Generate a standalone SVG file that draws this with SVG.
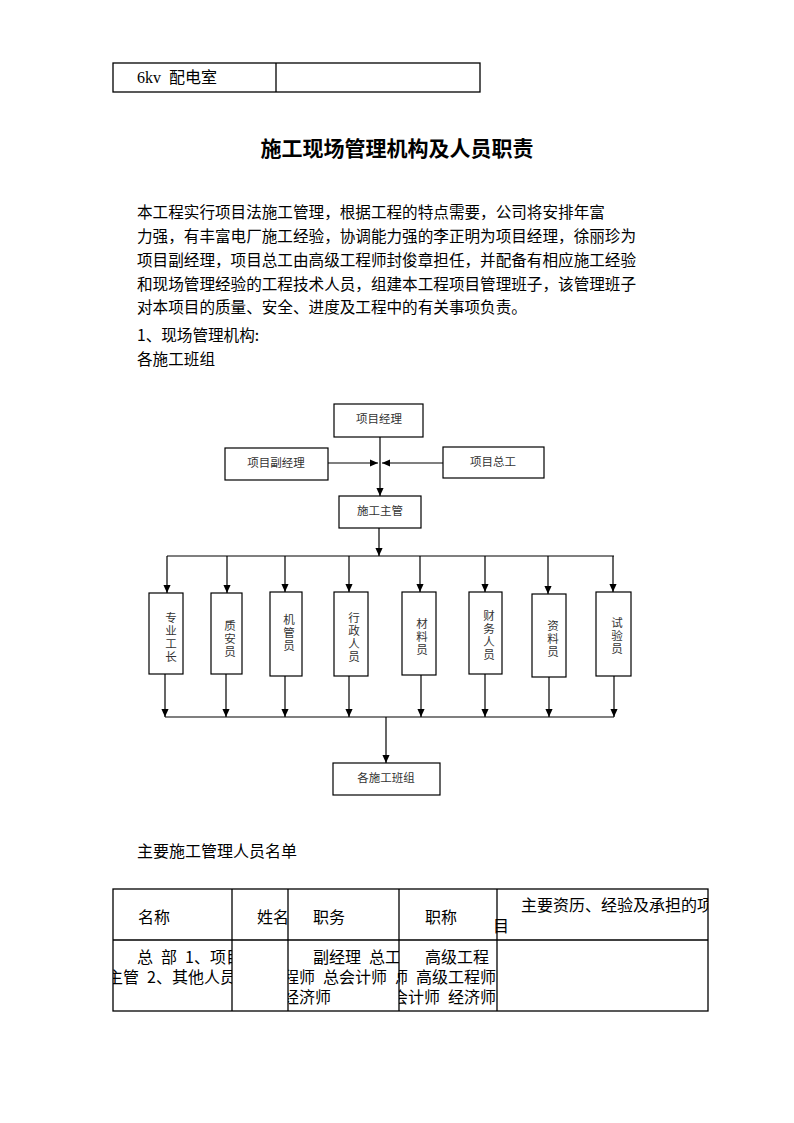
<svg xmlns="http://www.w3.org/2000/svg" width="794" height="1123" viewBox="0 0 794 1123">
<style>
.t{font-family:"Noto Sans CJK SC","Noto Sans",sans-serif;font-size:15.6px;fill:#000}
.ttl{font-family:"Noto Sans CJK SC",sans-serif;font-size:21px;font-weight:bold;fill:#000}
.c{font-family:"Noto Sans CJK SC",sans-serif;font-size:16px;fill:#000}
.n{font-family:"Noto Sans CJK SC",sans-serif;font-size:11.5px;fill:#333;text-anchor:middle}
.v{font-family:"Noto Sans CJK SC",sans-serif;font-size:11.5px;fill:#333;text-anchor:middle;writing-mode:vertical-rl;letter-spacing:1.5px}
.box{fill:#fff;stroke:#000;stroke-width:1.2}
.ln{stroke:#000;stroke-width:1.2;fill:none}
.tb{stroke:#000;stroke-width:1.3;fill:none}
</style>
<defs>
<marker id="ah" markerWidth="8" markerHeight="9" refX="9" refY="4" orient="auto" markerUnits="userSpaceOnUse" viewBox="0 0 9 8"><path d="M0,0 L9,4 L0,8 z" fill="#000"/></marker>
<clipPath id="c1"><rect x="113" y="940" width="119" height="71"/></clipPath>
<clipPath id="c3"><rect x="288" y="940" width="111" height="71"/></clipPath>
<clipPath id="c4"><rect x="399" y="940" width="98" height="71"/></clipPath>
<clipPath id="c5"><rect x="490" y="889" width="218" height="51"/></clipPath>
</defs>
<rect width="794" height="1123" fill="#fff"/>

<g id="top-table">
<rect x="113" y="63" width="367" height="29" class="tb"/>
<line x1="276" y1="63" x2="276" y2="92" class="tb"/>
<text x="137" y="83" class="c"><tspan font-family="Liberation Serif">6kv</tspan>&#8194;配电室</text>
</g>

<text x="397" y="156" class="ttl" text-anchor="middle">施工现场管理机构及人员职责</text>

<g id="paragraph">
<text x="137" y="218" class="t">本工程实行项目法施工管理，根据工程的特点需要，公司将安排年富</text>
<text x="137" y="242" class="t">力强，有丰富电厂施工经验，协调能力强的李正明为项目经理，徐丽珍为</text>
<text x="137" y="266" class="t">项目副经理，项目总工由高级工程师封俊章担任，并配备有相应施工经验</text>
<text x="137" y="290" class="t">和现场管理经验的工程技术人员，组建本工程项目管理班子，该管理班子</text>
<text x="137" y="313" class="t">对本项目的质量、安全、进度及工程中的有关事项负责。</text>
<text x="137" y="341" class="t">1、现场管理机构:</text>
<text x="137" y="365" class="t">各施工班组</text>
</g>

<g id="connectors">
<line x1="380" y1="437" x2="380" y2="496" class="ln" marker-end="url(#ah)"/>
<line x1="328" y1="463" x2="378" y2="463" class="ln" marker-end="url(#ah)"/>
<line x1="443" y1="463" x2="382" y2="463" class="ln" marker-end="url(#ah)"/>
<line x1="379" y1="528" x2="379" y2="556" class="ln" marker-end="url(#ah)"/>
<line x1="167" y1="556" x2="614" y2="556" class="ln"/>
<line x1="167" y1="556" x2="167" y2="593" class="ln" marker-end="url(#ah)"/>
<line x1="227" y1="556" x2="227" y2="593" class="ln" marker-end="url(#ah)"/>
<line x1="285" y1="556" x2="285" y2="592" class="ln" marker-end="url(#ah)"/>
<line x1="349" y1="556" x2="349" y2="592" class="ln" marker-end="url(#ah)"/>
<line x1="420" y1="556" x2="420" y2="592" class="ln" marker-end="url(#ah)"/>
<line x1="485" y1="556" x2="485" y2="592" class="ln" marker-end="url(#ah)"/>
<line x1="548" y1="556" x2="548" y2="594" class="ln" marker-end="url(#ah)"/>
<line x1="613" y1="556" x2="613" y2="592" class="ln" marker-end="url(#ah)"/>
<line x1="165" y1="674" x2="165" y2="717" class="ln" marker-end="url(#ah)"/>
<line x1="226" y1="674" x2="226" y2="717" class="ln" marker-end="url(#ah)"/>
<line x1="285" y1="676" x2="285" y2="717" class="ln" marker-end="url(#ah)"/>
<line x1="349" y1="676" x2="349" y2="717" class="ln" marker-end="url(#ah)"/>
<line x1="421" y1="675" x2="421" y2="717" class="ln" marker-end="url(#ah)"/>
<line x1="485" y1="674" x2="485" y2="717" class="ln" marker-end="url(#ah)"/>
<line x1="549" y1="677" x2="549" y2="717" class="ln" marker-end="url(#ah)"/>
<line x1="614" y1="676" x2="614" y2="717" class="ln" marker-end="url(#ah)"/>
<line x1="165" y1="717" x2="614" y2="717" class="ln"/>
<line x1="386" y1="717" x2="386" y2="763" class="ln" marker-end="url(#ah)"/>
</g>

<g id="n-pm"><rect x="334" y="404" width="89" height="33" class="box"/><text x="379" y="423" class="n">项目经理</text></g>
<g id="n-dpm"><rect x="225" y="448" width="103" height="32" class="box"/><text x="276" y="467" class="n">项目副经理</text></g>
<g id="n-ce"><rect x="443" y="447" width="101" height="31" class="box"/><text x="493" y="466" class="n">项目总工</text></g>
<g id="n-sup"><rect x="339" y="496" width="82" height="32" class="box"/><text x="380" y="515" class="n">施工主管</text></g>

<g id="n-1"><rect x="149" y="593" width="34" height="81" class="box"/><text x="171" y="638" class="v">专业工长</text></g>
<g id="n-2"><rect x="211" y="593" width="31" height="81" class="box"/><text x="230" y="639" class="v">质安员</text></g>
<g id="n-3"><rect x="270" y="592" width="32" height="84" class="box"/><text x="289" y="633" class="v">机管员</text></g>
<g id="n-4"><rect x="334" y="592" width="34" height="84" class="box"/><text x="354" y="638" class="v">行政人员</text></g>
<g id="n-5"><rect x="402" y="592" width="34" height="83" class="box"/><text x="422" y="637" class="v">材料员</text></g>
<g id="n-6"><rect x="469" y="592" width="33" height="82" class="box"/><text x="489" y="636" class="v">财务人员</text></g>
<g id="n-7"><rect x="532" y="594" width="34" height="83" class="box"/><text x="553" y="639" class="v">资料员</text></g>
<g id="n-8"><rect x="596" y="592" width="35" height="84" class="box"/><text x="617" y="636" class="v">试验员</text></g>

<g id="n-team"><rect x="333" y="763" width="107" height="32" class="box"/><text x="386" y="782" class="n">各施工班组</text></g>

<text x="137" y="857" class="c">主要施工管理人员名单</text>

<g id="staff-table">
<rect x="113" y="889" width="595" height="122" class="tb"/>
<line x1="113" y1="940" x2="708" y2="940" class="tb"/>
<line x1="232" y1="889" x2="232" y2="1011" class="tb"/>
<line x1="288" y1="889" x2="288" y2="1011" class="tb"/>
<line x1="399" y1="889" x2="399" y2="1011" class="tb"/>
<line x1="497" y1="889" x2="497" y2="1011" class="tb"/>
<text x="138" y="923" class="c">名称</text>
<text x="257" y="923" class="c">姓名</text>
<text x="313" y="923" class="c">职务</text>
<text x="425" y="923" class="c">职称</text>
<g clip-path="url(#c5)"><text x="521" y="911" class="c">主要资历、经验及承担的项</text><text x="493" y="932" class="c">目</text></g>
<g clip-path="url(#c1)"><text x="137" y="963" class="c">总&#8194;部&#8194;1、项目</text><text x="107" y="983" class="c">主管&#8194;2、其他人员</text></g>
<g clip-path="url(#c3)"><text x="313" y="963" class="c">副经理&#8194;总工</text><text x="283" y="983" class="c">程师&#8194;总会计师&#8194;总</text><text x="283" y="1003" class="c">经济师</text></g>
<g clip-path="url(#c4)"><text x="425" y="963" class="c">高级工程</text><text x="496" y="983" class="c" text-anchor="end">师&#8194;高级工程师</text><text x="496" y="1003" class="c" text-anchor="end">总会计师&#8194;经济师</text></g>
</g>
</svg>
